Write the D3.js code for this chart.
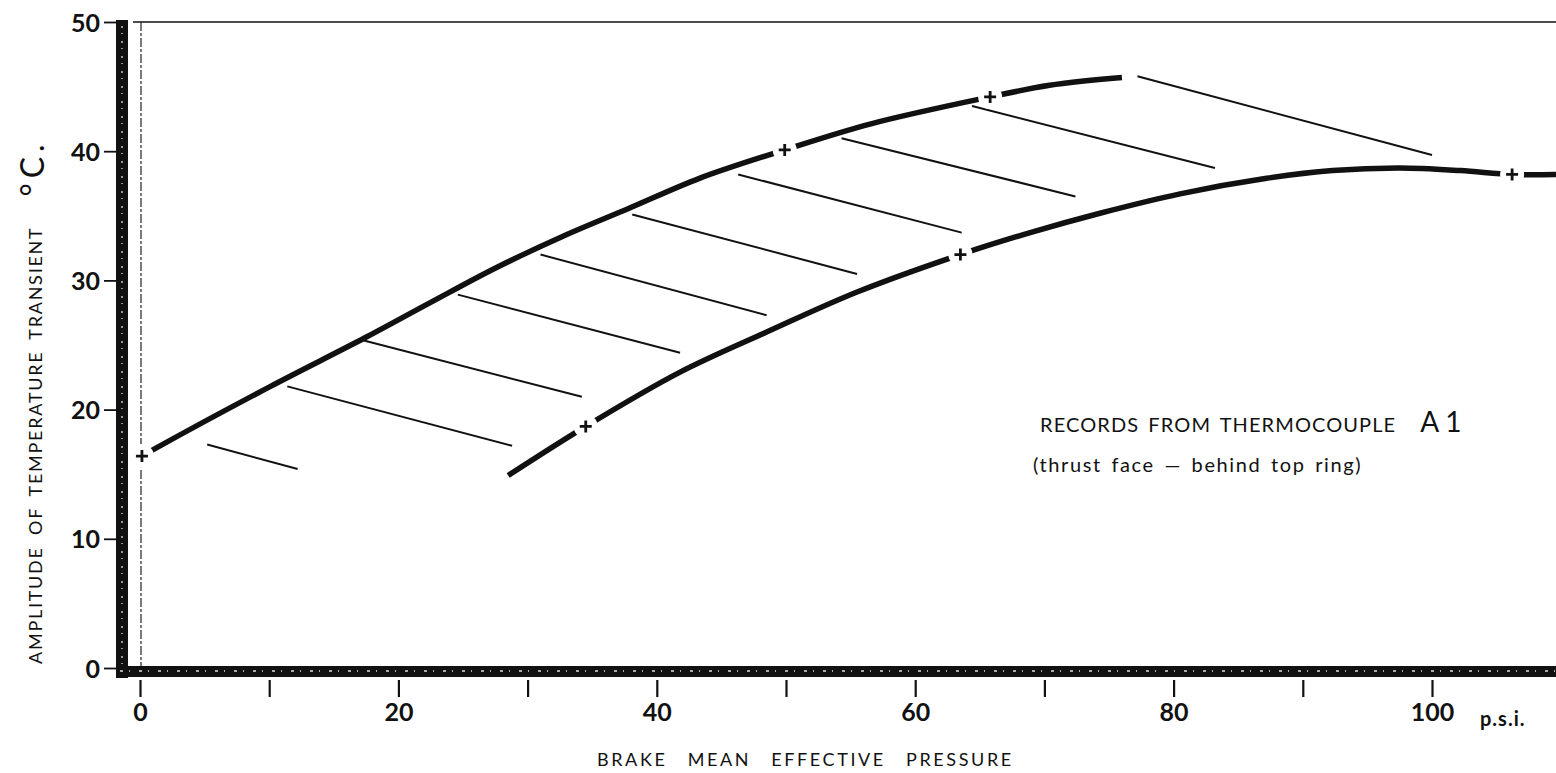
<!DOCTYPE html>
<html>
<head>
<meta charset="utf-8">
<script src="https://cdn.jsdelivr.net/npm/d3@7"></script>
<style>
  body { margin: 0; background: #fff; }
  svg { display: block; }
  text { font-family: Lato, "Open Sans", sans-serif; fill: #111; }
</style>
</head>
<body>
<div id="chart"></div>
<script>
// Values (bmep in p.s.i., amplitude in deg C)
const xTicks = [0, 20, 40, 60, 80, 100];
const xMinorTicks = [0, 10, 20, 30, 40, 50, 60, 70, 80, 90, 100];
const yTicks = [0, 10, 20, 30, 40, 50];

// Upper boundary curve
const upperX = [0.15, 1.2, 10.1, 17.3, 22.5, 27.6, 32.7, 37.9, 43.3, 49.9, 56.5, 65.8, 70.4, 76.0];
const upperY = [16.4, 17.0, 21.8, 25.5, 28.3, 31.0, 33.4, 35.6, 37.9, 40.1, 42.1, 44.2, 45.1, 45.7];

// Lower boundary curve
const lowerX = [28.5, 34.5, 41.8, 48.5, 55.5, 63.5, 68.9, 74.3, 80.5, 87.2, 92.3, 97.5, 102.2, 106.2, 109.6];
const lowerY = [14.9, 18.7, 22.9, 26.0, 29.1, 32.0, 33.7, 35.2, 36.7, 37.9, 38.5, 38.7, 38.5, 38.2, 38.2];

// Measured points marked with a cross
const upperMarksX = [0.15, 49.9, 65.8];
const upperMarksY = [16.4, 40.1, 44.2];
const lowerMarksX = [34.5, 63.5, 106.2];
const lowerMarksY = [18.7, 32.0, 38.2];

// Hatch lines between the two curves (start and end)
const hatchX1 = [5.2, 11.4, 17.1, 24.6, 31.0, 38.1, 46.3, 54.3, 64.4, 77.2];
const hatchY1 = [17.3, 21.8, 25.4, 28.9, 32.0, 35.1, 38.2, 41.0, 43.5, 45.8];
const hatchX2 = [12.2, 28.8, 34.2, 41.8, 48.5, 55.5, 63.6, 72.4, 83.2, 100.0];
const hatchY2 = [15.4, 17.2, 21.0, 24.4, 27.3, 30.5, 33.7, 36.5, 38.7, 39.7];

const width = 1556;
const height = 773;

const x = d3.scaleLinear().domain([0, 100]).range([140, 1432]);
const y = d3.scaleLinear().domain([0, 50]).range([668, 22]);

const svg = d3.select('#chart')
  .append('svg')
  .attr('width', width)
  .attr('height', height);

// Frame: thin top rule, dashed zero line, heavy left and bottom bars
svg.append('line')
  .attr('x1', 133).attr('x2', width)
  .attr('y1', y(50)).attr('y2', y(50))
  .attr('stroke', '#111').attr('stroke-width', 1.6);

svg.append('line')
  .attr('x1', x(0) + 1).attr('x2', x(0) + 1)
  .attr('y1', y(50)).attr('y2', y(0))
  .attr('stroke', '#222').attr('stroke-width', 1.2)
  .attr('stroke-dasharray', '9,2,3,2');

svg.append('rect')
  .attr('x', 116).attr('y', y(50) - 2)
  .attr('width', 12).attr('height', y(0) - y(50) + 12)
  .attr('fill', '#111');
svg.append('line')
  .attr('x1', 122).attr('x2', 122)
  .attr('y1', y(50) + 4).attr('y2', y(0) + 6)
  .attr('stroke', '#ddd').attr('stroke-width', 1.3)
  .attr('stroke-dasharray', '2,5,1,7');

svg.append('rect')
  .attr('x', 116).attr('y', y(0) - 2)
  .attr('width', width - 116).attr('height', 11)
  .attr('fill', '#111');
svg.append('line')
  .attr('x1', 120).attr('x2', width)
  .attr('y1', y(0) + 3).attr('y2', y(0) + 3)
  .attr('stroke', '#ddd').attr('stroke-width', 1.3)
  .attr('stroke-dasharray', '3,6,1,9');

// Y axis ticks + labels
const yAxis = d3.axisLeft(y)
  .tickValues(yTicks)
  .tickSize(12)
  .tickPadding(4)
  .tickFormat(d3.format('d'));

const gy = svg.append('g')
  .attr('transform', 'translate(116,0)')
  .call(yAxis);
gy.select('.domain').remove();
gy.selectAll('line').attr('stroke', '#111').attr('stroke-width', 1.8);
gy.selectAll('text')
  .style('font-family', 'Lato, sans-serif')
  .style('font-size', '25px')
  .style('font-weight', 'bold')
  .attr('fill', '#111')
  .attr('dy', '0.36em');

// X axis: ticks hang below the heavy bar
const xAxis = d3.axisBottom(x)
  .tickValues(xMinorTicks)
  .tickSize(17)
  .tickFormat(function(d) { return xTicks.indexOf(d) >= 0 ? d : ''; });

const gx = svg.append('g')
  .attr('transform', 'translate(0,' + (y(0) + 12) + ')')
  .call(xAxis);
gx.select('.domain').remove();
gx.selectAll('line').attr('stroke', '#111').attr('stroke-width', 2.2);
gx.selectAll('text')
  .style('font-family', 'Lato, sans-serif')
  .style('font-size', '25px')
  .style('font-weight', 'bold')
  .attr('fill', '#111')
  .attr('y', 23);

svg.append('text')
  .attr('x', 1480).attr('y', 726)
  .style('font-size', '20px')
  .style('font-weight', 'bold')
  .style('letter-spacing', '1px')
  .text('p.s.i.');

// Axis titles
svg.append('text')
  .attr('x', 597).attr('y', 766)
  .style('font-size', '18px')
  .style('letter-spacing', '2.6px')
  .style('word-spacing', '13px')
  .text('BRAKE MEAN EFFECTIVE PRESSURE');

const yTitle = svg.append('text')
  .attr('transform', 'translate(42,664) rotate(-90)')
  .style('font-size', '18px')
  .style('letter-spacing', '1.75px')
  .style('word-spacing', '5px');
yTitle.append('tspan').text('AMPLITUDE OF TEMPERATURE TRANSIENT');
yTitle.append('tspan').attr('dx', 30).attr('dy', 2).style('font-size', '32px').style('letter-spacing', '5px').text('°C.');

// Hatching
const hatch = d3.range(hatchX1.length);
svg.selectAll('.hatch')
  .data(hatch)
  .enter()
  .append('line')
  .attr('class', 'hatch')
  .attr('x1', function(i) { return x(hatchX1[i]); })
  .attr('y1', function(i) { return y(hatchY1[i]); })
  .attr('x2', function(i) { return x(hatchX2[i]); })
  .attr('y2', function(i) { return y(hatchY2[i]); })
  .attr('stroke', '#111')
  .attr('stroke-width', 2);

// Curves
const line = d3.line()
  .x(function(d) { return x(d[0]); })
  .y(function(d) { return y(d[1]); })
  .curve(d3.curveCatmullRom.alpha(0.5));

const upper = upperX.map(function(v, i) { return [v, upperY[i]]; });
const lower = lowerX.map(function(v, i) { return [v, lowerY[i]]; });

[upper, lower].forEach(function(pts) {
  svg.append('path')
    .attr('d', line(pts))
    .attr('fill', 'none')
    .attr('stroke', '#111')
    .attr('stroke-width', 5.5)
    .attr('stroke-linecap', 'butt');
});

// Crosses, with a small break cut in the curve around each
const marks = upperMarksX.map(function(v, i) { return [v, upperMarksY[i]]; })
  .concat(lowerMarksX.map(function(v, i) { return [v, lowerMarksY[i]]; }));

svg.selectAll('.gap')
  .data(marks)
  .enter()
  .append('circle')
  .attr('class', 'gap')
  .attr('cx', function(d) { return x(d[0]); })
  .attr('cy', function(d) { return y(d[1]); })
  .attr('r', 12)
  .attr('fill', '#fff');

svg.selectAll('.cross')
  .data(marks)
  .enter()
  .append('path')
  .attr('class', 'cross')
  .attr('d', function(d) {
    var cx = x(d[0]), cy = y(d[1]), s = 6;
    return 'M' + (cx - s) + ',' + cy + 'H' + (cx + s) + 'M' + cx + ',' + (cy - s) + 'V' + (cy + s);
  })
  .attr('stroke', '#111')
  .attr('stroke-width', 2.8);

// Note
const note = svg.append('text')
  .attr('x', 1040).attr('y', 432)
  .style('font-size', '20px')
  .style('letter-spacing', '1.1px')
  .style('word-spacing', '3px');
note.append('tspan').text('RECORDS  FROM THERMOCOUPLE');
note.append('tspan').attr('dx', 24).style('font-size', '28px').style('letter-spacing', '6px').text('A1');

svg.append('text')
  .attr('x', 1033).attr('y', 472)
  .style('font-size', '20px')
  .style('letter-spacing', '1.6px')
  .style('word-spacing', '3px')
  .text('(thrust face \u2014 behind top ring)');
</script>
</body>
</html>
